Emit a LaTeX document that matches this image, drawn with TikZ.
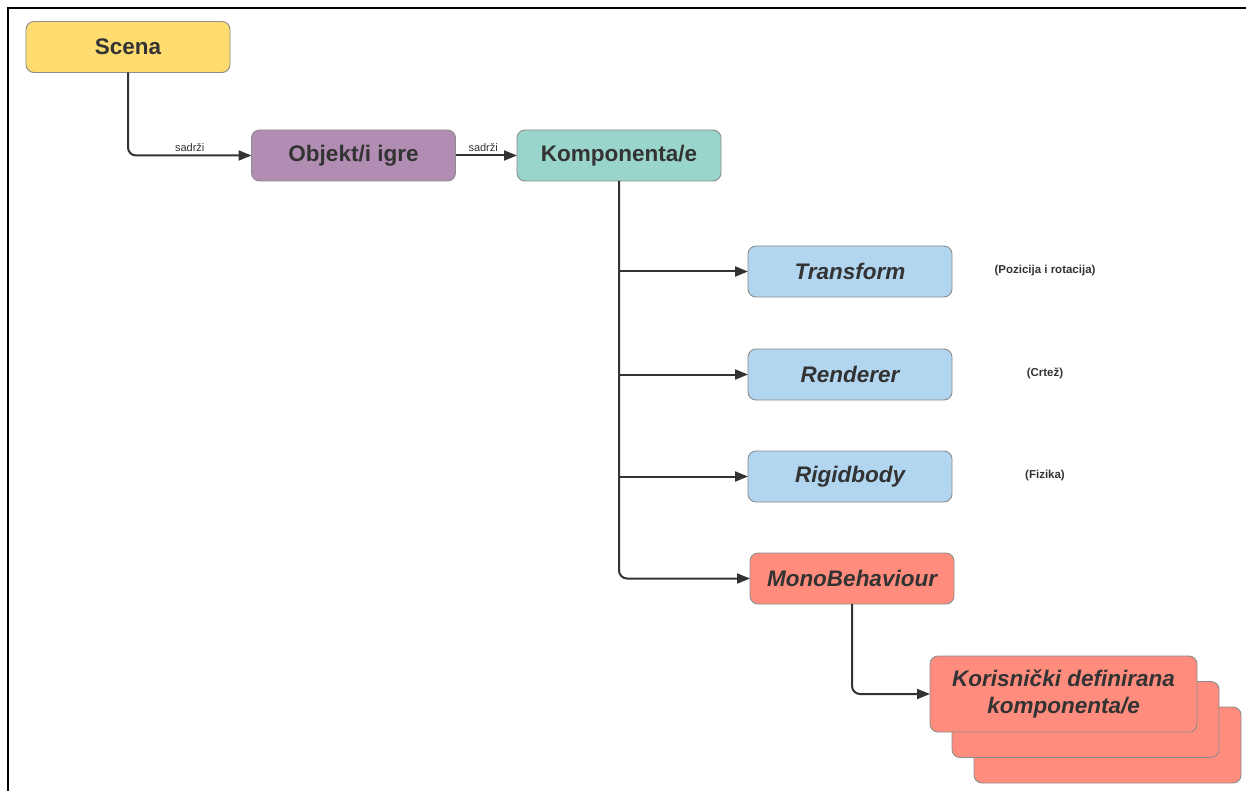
\documentclass[tikz,border=0pt]{standalone}
\usepackage{fontspec}
\setmainfont{Liberation Sans}
\usetikzlibrary{arrows.meta}
\definecolor{txt}{HTML}{333333}
\definecolor{cyellow}{HTML}{FEDC6F}
\definecolor{cpurple}{HTML}{B18DB3}
\definecolor{cteal}{HTML}{99D5CA}
\definecolor{cblue}{HTML}{B2D5F0}
\definecolor{csalmon}{HTML}{FF8C7D}
\definecolor{cline}{HTML}{333333}
\tikzset{
  box/.style={rectangle, rounded corners=8pt, draw=black!45, line width=0.9pt,
    minimum width=204pt, minimum height=51pt, inner sep=0pt, outer sep=0pt,
    text=txt, font=\fontsize{22.5}{26}\selectfont\bfseries},
  ibox/.style={box, font=\fontsize{22.5}{26}\selectfont\bfseries\itshape},
  bigbox/.style={ibox, minimum width=267pt, minimum height=76pt, align=center,
    font=\fontsize{22.5}{27}\selectfont\bfseries\itshape},
  conn/.style={draw=cline, line width=2pt, rounded corners=8pt,
    -{Triangle[length=13pt,width=10pt]}},
  lbl/.style={font=\fontsize{11}{13}\selectfont, text=txt, inner sep=1pt},
  note/.style={font=\fontsize{11.5}{13}\selectfont\bfseries, text=txt, inner sep=0pt},
}
\begin{document}
\begin{tikzpicture}[x=1pt,y=-1pt]
\useasboundingbox (0,0) rectangle (1246,791);
\draw[line width=2pt, black] (8,791) -- (8,8) -- (1246,8);

\node[box, fill=cyellow] (scena) at (128,47) {Scena};
\node[box, fill=cpurple] (objekt) at (353.5,155.5) {Objekt/i igre};
\node[box, fill=cteal] (komp) at (619,155.5) {Komponenta/e};
\node[ibox, fill=cblue] (transform) at (850,271.5) {Transform};
\node[ibox, fill=cblue] (renderer) at (850,374.5) {Renderer};
\node[ibox, fill=cblue] (rigid) at (850,476.5) {Rigidbody};
\node[ibox, fill=csalmon] (mono) at (852,578.5) {MonoBehaviour};

\node[bigbox, fill=csalmon] (kor3) at (1107.5,745) {};
\node[bigbox, fill=csalmon] (kor2) at (1085.5,719.5) {};
\node[bigbox, fill=csalmon] (kor1) at (1063.5,694) {Korisnički definirana\\komponenta/e};

\node[note] (n1) at (1045,270.5) {(Pozicija i rotacija)};
\node[note] (n2) at (1045,373.5) {(Crtež)};
\node[note] (n3) at (1045,475.5) {(Fizika)};

\draw[conn] (scena.south) |- (objekt.west) node[lbl, pos=0.75, above=2pt] {sadrži};
\draw[conn] (objekt.east) -- (komp.west) node[lbl, pos=0.45, above=2pt] {sadrži};
\draw[conn] (komp.south) |- (mono.west);
\draw[conn] (komp.south |- transform.west) -- (transform.west);
\draw[conn] (komp.south |- renderer.west) -- (renderer.west);
\draw[conn] (komp.south |- rigid.west) -- (rigid.west);
\draw[conn] (mono.south) |- (kor1.west);
\end{tikzpicture}
\end{document}
